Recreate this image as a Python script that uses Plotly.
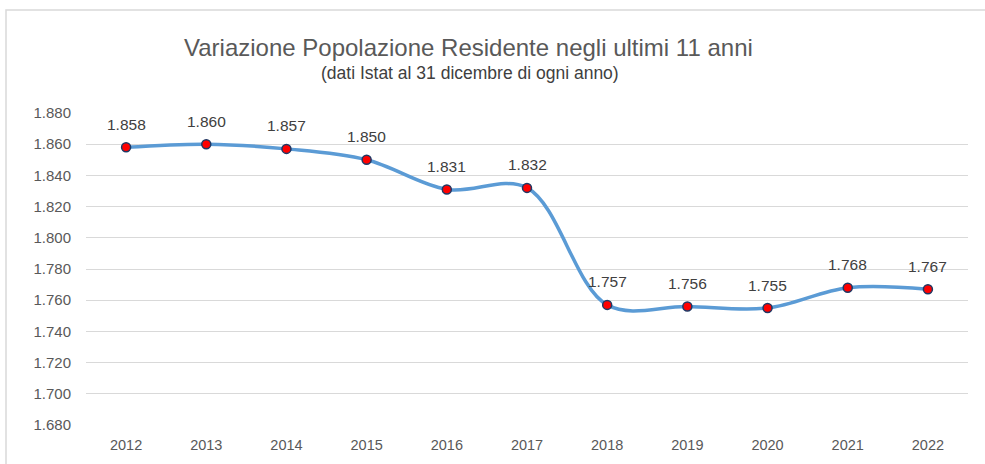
import plotly.graph_objects as go

years = ["2012", "2013", "2014", "2015", "2016", "2017", "2018", "2019", "2020", "2021", "2022"]
population = [1.858, 1.860, 1.857, 1.850, 1.831, 1.832, 1.757, 1.756, 1.755, 1.768, 1.767]
title_text = "Variazione Popolazione Residente negli ultimi 11 anni"
subtitle_text = "(dati Istat al 31 dicembre di ogni anno)"

W, H = 985, 464
L, R, T, B = 86, 17, 113, 39
pw, ph = W - L - R, H - T - B

def px_x(p):
    return (p - L) / pw

def px_y(p):
    return (H - B - p) / ph

font_family = "Liberation Sans, Arial, sans-serif"

fig = go.Figure()
fig.add_trace(go.Scatter(
    x=years, y=population,
    mode="lines+markers",
    line=dict(color="#5B9BD5", width=3.5, shape="spline", smoothing=1.0),
    marker=dict(color="#FF0000", size=9, line=dict(color="#1F3864", width=1.5)),
    cliponaxis=False,
    hoverinfo="x+y",
))

annotations = [
    dict(x=i, y=v, xref="x", yref="y", text=f"{v:.3f}", showarrow=False,
         yshift=23, xanchor="center", yanchor="middle",
         font=dict(family=font_family, size=15.5, color="#404040"))
    for i, v in enumerate(population)
]
annotations += [
    dict(text=title_text, xref="paper", yref="paper", x=px_x(468), y=px_y(47),
         showarrow=False, xanchor="center", yanchor="middle",
         font=dict(family=font_family, size=24, color="#595959")),
    dict(text=subtitle_text, xref="paper", yref="paper", x=px_x(470), y=px_y(73),
         showarrow=False, xanchor="center", yanchor="middle",
         font=dict(family=font_family, size=17.5, color="#404040")),
]

fig.update_layout(
    width=W, height=H,
    margin=dict(l=L, r=R, t=T, b=B),
    paper_bgcolor="white", plot_bgcolor="white",
    showlegend=False,
    font=dict(family=font_family, color="#595959"),
    xaxis=dict(
        type="category", categoryorder="array", categoryarray=years,
        range=[-0.5, len(years) - 0.5],
        showgrid=False, zeroline=False, showline=False,
        ticks="", tickfont=dict(size=14.5, color="#595959"), automargin=False,
        ticklabelstandoff=9,
    ),
    yaxis=dict(
        range=[1.68, 1.88], dtick=0.02, tick0=1.68, tickformat=".3f",
        showgrid=True, gridcolor="#D9D9D9", gridwidth=1, zeroline=False,
        showline=False, ticks="", tickfont=dict(size=15, color="#595959"),
        ticklabelstandoff=14, automargin=False,
    ),
    annotations=annotations,
    shapes=[
        dict(type="rect", xref="paper", yref="paper",
             x0=px_x(6), x1=px_x(995), y0=px_y(475), y1=px_y(10),
             line=dict(color="#D9D9D9", width=1.5), fillcolor="rgba(0,0,0,0)", layer="below"),
    ],
)

fig.write_html("out.html", config={"displayModeBar": False},
               post_script="document.body.style.margin='0';")
